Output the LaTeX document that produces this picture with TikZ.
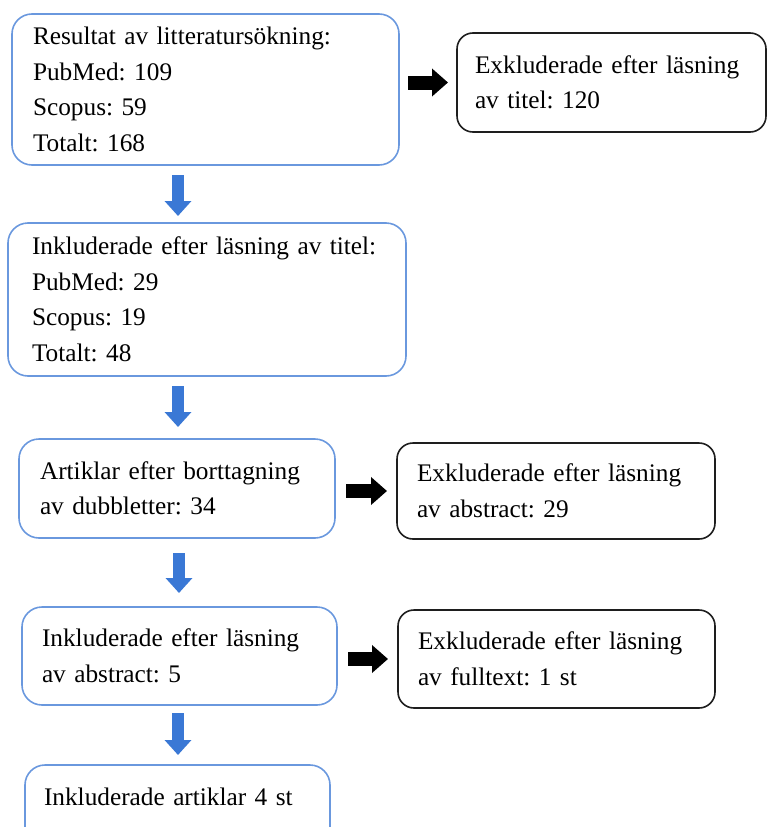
\documentclass[tikz,border=0pt]{standalone}
\usepackage{fontspec}
\setmainfont{Liberation Serif}
\usetikzlibrary{arrows.meta}
\definecolor{boxblue}{HTML}{6A98DE}
\definecolor{arrblue}{HTML}{3A78D5}
\definecolor{boxblack}{HTML}{1E1E1E}
\tikzset{
  box/.style={rectangle, outer sep=0pt, inner ysep=0pt, align=left, anchor=north west,
    font=\fontsize{25.3}{35.5}\selectfont, line width=1.6pt,
    execute at begin node={\frenchspacing\hyphenpenalty=10000\exhyphenpenalty=10000}},
  bluebox/.style={box, draw=boxblue, rounded corners=20pt},
  blackbox/.style={box, draw=boxblack, rounded corners=16pt},
  downarrow/.style={draw=arrblue, line width=12pt, -{Triangle[length=15pt,width=26pt]}},
  rightarrow/.style={draw=black, line width=14pt, -{Triangle[length=16pt,width=27pt]}},
}
\begin{document}
\begin{tikzpicture}[x=1pt,y=-1pt]
\useasboundingbox (0,0) rectangle (768,827);
\clip (0,0) rectangle (768,827);

\node[bluebox, minimum width=387pt, minimum height=151pt, text width=345pt, inner xsep=21pt] (b1) at (12,14)
  {\mbox{Resultat av litteratursökning:}\\PubMed: 109\\Scopus: 59\\Totalt: 168};
\node[blackbox, minimum width=309pt, minimum height=99pt, text width=273pt, inner xsep=18pt] (b2) at (457,33)
  {\mbox{Exkluderade efter läsning}\\av titel: 120};
\node[bluebox, minimum width=398pt, minimum height=153pt, text width=350pt, inner xsep=24pt] (b3) at (8,223)
  {\mbox{Inkluderade efter läsning av titel:}\\PubMed: 29\\Scopus: 19\\Totalt: 48};
\node[bluebox, minimum width=316pt, minimum height=99pt, text width=274pt, inner xsep=21pt] (b4) at (19,439)
  {\mbox{Artiklar efter borttagning}\\av dubbletter: 34};
\node[blackbox, minimum width=318pt, minimum height=96pt, text width=278pt, inner xsep=20pt] (b5) at (397,443)
  {\mbox{Exkluderade efter läsning}\\av abstract: 29};
\node[bluebox, minimum width=315pt, minimum height=98pt, text width=275pt, inner xsep=20pt] (b6) at (22,607)
  {\mbox{Inkluderade efter läsning}\\av abstract: 5};
\node[blackbox, minimum width=317pt, minimum height=98pt, text width=277pt, inner xsep=20pt] (b7) at (398,610)
  {\mbox{Exkluderade efter läsning}\\av fulltext: 1 st};
\node[bluebox, minimum width=305pt, text width=267pt, inner xsep=19pt, inner ysep=22pt,
  text height=18pt, text depth=22pt] (b8) at (25,765)
  {Inkluderade artiklar 4 st};

\draw[downarrow, shorten <=10pt, shorten >=7pt] ([xshift=166pt]b1.south west) -- ([xshift=170pt]b3.north west);
\draw[downarrow, shorten <=10pt, shorten >=12pt] ([xshift=170pt]b3.south west) -- ([xshift=159pt]b4.north west);
\draw[downarrow, shorten <=15pt, shorten >=14pt] ([xshift=160pt]b4.south west) -- ([xshift=157pt]b6.north west);
\draw[downarrow, shorten <=8pt, shorten >=10pt] ([xshift=156pt]b6.south west) -- ([xshift=153pt]b8.north west);

\draw[rightarrow, shorten <=9pt, shorten >=9pt] (b1.east |- b2.west) -- (b2.west);
\draw[rightarrow, shorten <=11pt, shorten >=10pt] (b4.east |- b5.west) -- (b5.west);
\draw[rightarrow, shorten <=11pt, shorten >=10pt] (b6.east |- b7.west) -- (b7.west);
\end{tikzpicture}
\end{document}
